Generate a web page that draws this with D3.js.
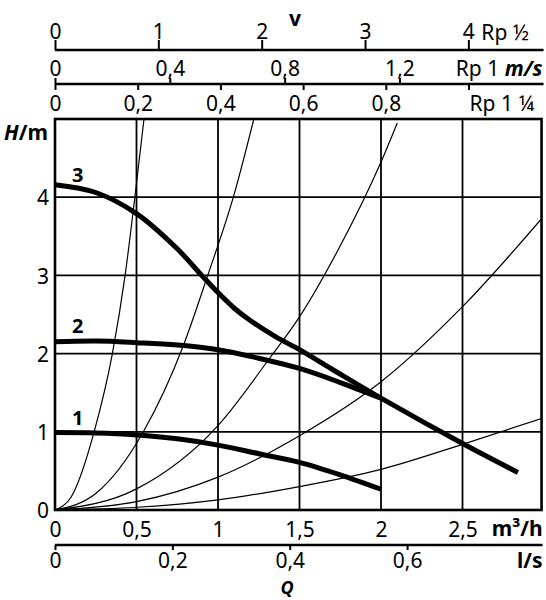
<!DOCTYPE html>
<html lang="de">
<head>
<meta charset="UTF-8">
<title>Pumpenkennlinie</title>
<script src="https://cdn.jsdelivr.net/npm/d3@7"></script>
<style>
    body { margin: 0; background: #fff; }
    #chart { width: 546px; height: 600px; }
    text { font-family: "Noto Sans", "DejaVu Sans", sans-serif; fill: #000; }
    .grid line { stroke: #000; stroke-width: 1.8px; }
    .frame { fill: none; stroke: #000; stroke-width: 2.6px; }
    .system { fill: none; stroke: #000; stroke-width: 1.2px; clip-path: url(#clip); }
    .pump { fill: none; stroke: #000; stroke-width: 5px; }
    .scale line { stroke: #000; stroke-width: 2px; }
    .rule { stroke: #000; stroke-width: 2.6px; }
</style>
</head>
<body>
<div id="chart"></div>
<script>
    // tick values
    let qTicks = [0, 0.5, 1, 1.5, 2, 2.5];          // m³/h
    let hTicks = [0, 1, 2, 3, 4];                   // m
    let lsTicks = [0, 0.2, 0.4, 0.6];               // l/s
    let vHalfTicks = [0, 1, 2, 3, 4];               // m/s, Rp 1/2
    let vOneTicks = [0, 0.4, 0.8, 1.2];             // m/s, Rp 1
    let vOneQuarterTicks = [0, 0.2, 0.4, 0.6, 0.8, 1.0]; // m/s, Rp 1 1/4

    let qPerLs = 3.6;
    let qPerVHalf = 0.634;
    let qPerVOne = 1.761;
    let qPerVOneQuarter = 2.537;

    // pump curves, [Q m³/h, H m]
    let stage1 = [[0, 0.99], [0.25, 0.985], [0.5, 0.96], [0.75, 0.91], [1.0, 0.83],
                  [1.25, 0.72], [1.5, 0.61], [1.75, 0.45], [2.0, 0.265]];
    let stage2 = [[0, 2.15], [0.25, 2.16], [0.5, 2.14], [0.75, 2.11], [1.0, 2.05],
                  [1.25, 1.94], [1.5, 1.81], [1.75, 1.63], [2.0, 1.43]];
    let stage3 = [[0, 4.16], [0.25, 4.06], [0.5, 3.79], [0.75, 3.34], [0.9, 3.0],
                  [1.0, 2.78], [1.1, 2.58], [1.2, 2.42], [1.35, 2.22], [1.5, 2.05],
                  [1.7, 1.8], [2.0, 1.43], [2.5, 0.85], [2.84, 0.48]];

    // system curves, [Q m³/h, H m]
    let sysA = [[0, 0], [0.1, 0.17], [0.24, 1], [0.352, 2], [0.43, 3], [0.49, 4], [0.546, 5]];
    let sysB = [[0, 0], [0.25, 0.21], [0.542, 1], [0.787, 2.1], [0.937, 3], [1.094, 4], [1.22, 5]];
    let sysC = [[0, 0], [0.5, 0.27], [1.0, 1.08], [1.32, 1.95], [1.5, 2.47], [1.73, 3.3], [2.0, 4.45], [2.1, 4.95]];
    let sysD = [[0, 0], [0.5, 0.106], [1.0, 0.42], [1.5, 0.95], [2.0, 1.64], [2.5, 2.6], [3.0, 3.76]];
    let sysE = [[0, 0], [0.5, 0.035], [1.0, 0.13], [1.5, 0.3], [2.0, 0.52], [2.5, 0.84], [3.0, 1.18]];

    let stageNames = ["1", "2", "3"];

    let draw = () => {
        let svg = d3.select("#chart").append("svg")
            .attr("class", "chart")
            .attr("width", 546)
            .attr("height", 600);

        let de = d3.formatLocale({ decimal: ",", thousands: ".", grouping: [3], currency: ["", " €"] });
        let fmt = de.format("~g");

        let qMax = 2.985;
        let x = d3.scaleLinear().domain([0, 3]).range([55, 544]);
        let y = d3.scaleLinear().domain([0, 5]).range([510, 119]);
        let left = x(0), right = x(qMax);

        svg.append("defs").append("clipPath")
            .attr("id", "clip")
            .append("rect")
            .attr("x", left)
            .attr("y", y(5))
            .attr("width", right - left)
            .attr("height", y(0) - y(5));

        //////////// grid ////////////
        let grid = svg.append("g").attr("class", "grid");
        grid.selectAll(".vx")
            .data(qTicks.filter(d => d > 0))
            .enter().append("line")
            .attr("x1", d => x(d)).attr("x2", d => x(d))
            .attr("y1", y(0)).attr("y2", y(5));
        grid.selectAll(".hy")
            .data(hTicks.filter(d => d > 0))
            .enter().append("line")
            .attr("x1", left).attr("x2", right)
            .attr("y1", d => y(d)).attr("y2", d => y(d));

        //////////// curves ////////////
        let sysLine = d3.line()
            .curve(d3.curveMonotoneX)
            .x(d => x(d[0]))
            .y(d => y(d[1]));
        let pumpLine = d3.line()
            .curve(d3.curveCatmullRom.alpha(0.5))
            .x(d => x(d[0]))
            .y(d => y(d[1]));

        svg.selectAll(".system")
            .data([sysA, sysB, sysC, sysD, sysE])
            .enter().append("path")
            .attr("class", "system")
            .attr("d", sysLine);

        let stages = [stage1, stage2, stage3];
        svg.selectAll(".pump")
            .data(stages)
            .enter().append("path")
            .attr("class", "pump")
            .attr("d", pumpLine);

        // stage numbers above the start of each curve
        let labelDy = [-8, -9, -3];
        svg.selectAll(".stageLabel")
            .data(stages)
            .enter().append("text")
            .attr("class", "stageLabel")
            .attr("x", x(0.14))
            .attr("y", (d, i) => y(d[0][1]) + labelDy[i])
            .attr("text-anchor", "middle")
            .style("font-size", "20px")
            .style("font-weight", "bold")
            .text((d, i) => stageNames[i]);

        svg.append("rect")
            .attr("class", "frame")
            .attr("x", left).attr("y", y(5))
            .attr("width", right - left)
            .attr("height", y(0) - y(5));

        //////////// axes ////////////
        let styleAxis = (g) => {
            g.select(".domain").remove();
            g.selectAll("text").style("font-size", "21px").attr("fill", "#000");
            g.selectAll("line").attr("stroke", "#000").attr("stroke-width", 2);
        };

        // H
        svg.append("g")
            .attr("class", "scale")
            .attr("transform", "translate(" + left + ",0)")
            .call(d3.axisLeft(y).tickValues(hTicks).tickSize(0).tickPadding(6).tickFormat(fmt))
            .call(styleAxis)
            .selectAll("text").attr("dy", "0.37em");

        // Q m³/h
        svg.append("g")
            .attr("class", "scale")
            .attr("transform", "translate(0," + y(0) + ")")
            .call(d3.axisBottom(x).tickValues(qTicks).tickSize(0).tickPadding(12).tickFormat(fmt))
            .call(styleAxis);

        // Q l/s
        let ls = d3.scaleLinear().domain([0, 1]).range([x(0), x(qPerLs)]);
        let lsY = 545;
        svg.append("line").attr("class", "rule")
            .attr("x1", left).attr("x2", right + 1).attr("y1", lsY).attr("y2", lsY);
        svg.append("g")
            .attr("class", "scale")
            .attr("transform", "translate(0," + lsY + ")")
            .call(d3.axisBottom(ls).tickValues(lsTicks).tickSize(5).tickPadding(3).tickFormat(fmt))
            .call(styleAxis);

        // v, Rp 1/2
        let vHalf = d3.scaleLinear().domain([0, 1]).range([x(0), x(qPerVHalf)]);
        let topY1 = 50;
        svg.append("line").attr("class", "rule")
            .attr("x1", left).attr("x2", right + 2).attr("y1", topY1).attr("y2", topY1);
        svg.append("g")
            .attr("class", "scale")
            .attr("transform", "translate(0," + topY1 + ")")
            .call(d3.axisTop(vHalf).tickValues(vHalfTicks).tickSize(10).tickPadding(1).tickFormat(fmt))
            .call(styleAxis);

        // v, Rp 1 (above) and Rp 1 1/4 (below) share one ruler
        let vOne = d3.scaleLinear().domain([0, 1]).range([x(0), x(qPerVOne)]);
        let vOneQuarter = d3.scaleLinear().domain([0, 1]).range([x(0), x(qPerVOneQuarter)]);
        let topY2 = 84;
        svg.append("line").attr("class", "rule")
            .attr("x1", left).attr("x2", right + 2).attr("y1", topY2).attr("y2", topY2);
        svg.append("g")
            .attr("class", "scale")
            .attr("transform", "translate(0," + topY2 + ")")
            .call(d3.axisTop(vOne).tickValues(vOneTicks).tickSize(6).tickPadding(2).tickFormat(fmt))
            .call(styleAxis);
        let lastQuarter = vOneQuarterTicks[vOneQuarterTicks.length - 1];
        svg.append("g")
            .attr("class", "scale")
            .attr("transform", "translate(0," + topY2 + ")")
            .call(d3.axisBottom(vOneQuarter).tickValues(vOneQuarterTicks).tickSize(6).tickPadding(6)
                .tickFormat(d => d === lastQuarter ? "" : fmt(d)))
            .call(styleAxis);

        //////////// titles ////////////
        let label = (tx, ty, anchor) => svg.append("text")
            .attr("x", tx).attr("y", ty)
            .attr("text-anchor", anchor)
            .style("font-size", "21px");

        label(vHalf(vHalfTicks[vHalfTicks.length - 1]) + 13, topY1 - 10, "start").text("Rp ½");
        let rp1 = label(right + 1, topY2 - 8, "end");
        rp1.append("tspan").text("Rp 1 ");
        rp1.append("tspan").style("font-weight", "bold").style("font-style", "italic").text("m/s");
        label(vOneQuarter(lastQuarter) + 1, topY2 + 27, "start").text("Rp 1 ¼");

        label(295, 26, "middle").style("font-weight", "bold").text("v");

        let hm = label(48, 140, "end").style("font-weight", "bold");
        hm.append("tspan").style("font-style", "italic").text("H");
        hm.append("tspan").text("/m");

        label(right + 1, 536, "end").style("font-weight", "bold").text("m³/h");
        label(right + 1, 568, "end").style("font-weight", "bold").text("l/s");
        label(287, 594, "middle").style("font-size", "18px")
            .style("font-weight", "bold").style("font-style", "italic").text("Q");
    };

    draw();
</script>
</body>
</html>
